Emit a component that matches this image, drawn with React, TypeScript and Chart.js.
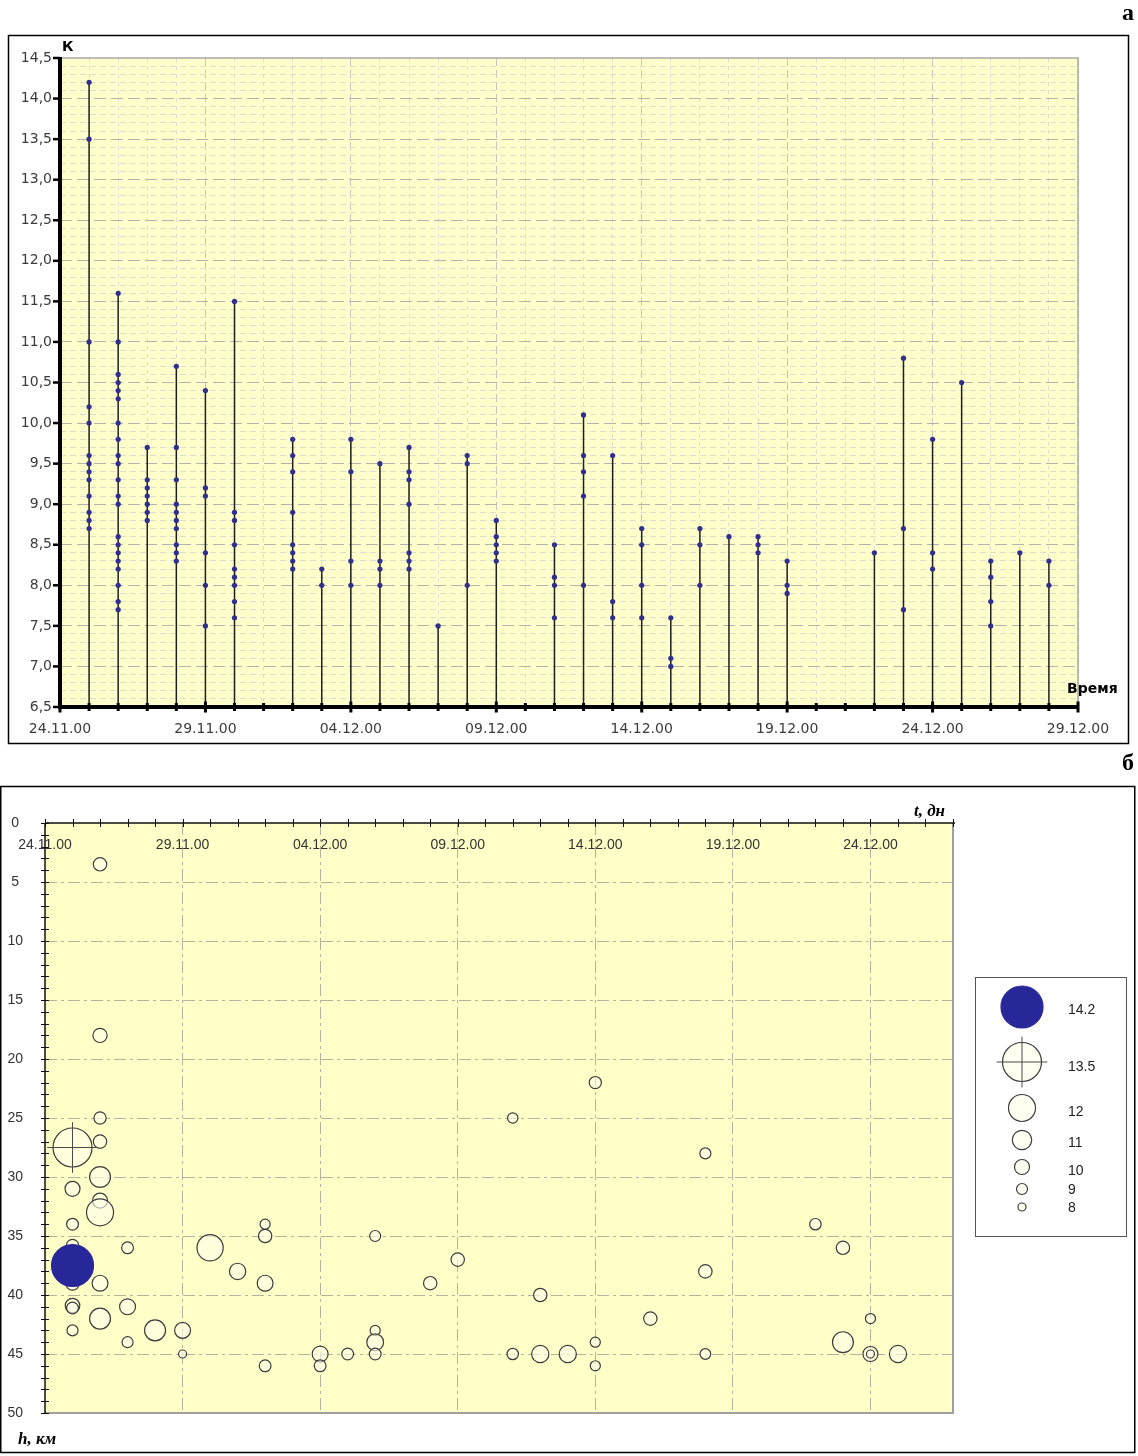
import React, { useEffect, useRef } from 'react';
import { Chart, registerables } from 'chart.js';

Chart.register(...registerables);

// ================= DATA =================
// Chart "а": energy class K of events per day (day index, 0 = 24.11.00)
const stemDays = [1, 2, 3, 4, 5, 6, 8, 9, 10, 11, 12, 13, 14, 15, 17, 18, 19, 20, 21, 22, 23, 24, 25, 28, 29, 30, 31, 32, 33, 34];
const stemK: number[][] = [
  [14.2, 13.5, 11.0, 10.2, 10.0, 9.6, 9.5, 9.4, 9.3, 9.1, 8.9, 8.8, 8.7],
  [11.6, 11.0, 10.6, 10.5, 10.4, 10.3, 10.0, 9.8, 9.6, 9.5, 9.3, 9.1, 9.0, 8.6, 8.5, 8.4, 8.3, 8.2, 8.0, 7.8, 7.7],
  [9.7, 9.3, 9.2, 9.1, 9.0, 8.9, 8.8],
  [10.7, 9.7, 9.3, 9.0, 8.9, 8.8, 8.7, 8.5, 8.4, 8.3],
  [10.4, 9.2, 9.1, 8.4, 8.0, 7.5],
  [11.5, 8.9, 8.8, 8.5, 8.2, 8.1, 8.0, 7.8, 7.6],
  [9.8, 9.6, 9.4, 8.9, 8.5, 8.4, 8.3, 8.2],
  [8.2, 8.0],
  [9.8, 9.4, 8.3, 8.0],
  [9.5, 8.3, 8.2, 8.0],
  [9.7, 9.4, 9.3, 9.0, 8.4, 8.3, 8.2],
  [7.5],
  [9.6, 9.5, 8.0],
  [8.8, 8.6, 8.5, 8.4, 8.3],
  [8.5, 8.1, 8.0, 7.6],
  [10.1, 9.6, 9.4, 9.1, 8.0],
  [9.6, 7.8, 7.6],
  [8.7, 8.5, 8.0, 7.6],
  [7.6, 7.1, 7.0],
  [8.7, 8.5, 8.0],
  [8.6],
  [8.6, 8.5, 8.4],
  [8.3, 8.0, 7.9],
  [8.4],
  [10.8, 8.7, 7.7],
  [9.8, 8.4, 8.2],
  [10.5],
  [8.3, 8.1, 7.8, 7.5],
  [8.4],
  [8.3, 8.0],
];
const xLabelsA = ['24.11.00', '29.11.00', '04.12.00', '09.12.00', '14.12.00', '19.12.00', '24.12.00', '29.12.00'];

// Chart "б": events: day index, depth h (km), class K
const bubbleDays = [2, 2, 2, 2, 1, 1, 2, 2, 2, 1, 1, 1, 1, 2, 1, 1, 2, 3, 3, 1, 3, 4, 5, 5, 6, 7, 8, 8, 8, 8, 10, 10, 11, 12, 12, 12, 12, 14, 15, 17, 17, 18, 18, 19, 20, 20, 20, 22, 24, 24, 24, 28, 29, 29, 30, 30, 30, 31];
const bubbleDepths = [3.5, 18, 25, 27, 27.5, 31, 30, 32, 33, 34, 35.8, 39, 37.5, 39, 40.9, 41.1, 42, 36, 41, 43, 44, 43, 43, 45, 36, 38, 34, 35, 39, 46, 45, 46, 45, 35, 43, 44, 45, 39, 37, 25, 45, 40, 45, 45, 22, 44, 46, 42, 28, 38, 45, 34, 36, 44, 42, 45, 45, 45];
const bubbleK = [9.6, 9.8, 9.3, 9.6, 13.5, 10.0, 11.2, 10.0, 12.0, 9.2, 9.3, 9.7, 14.2, 10.2, 9.9, 9.2, 11.2, 9.2, 10.2, 9.0, 9.0, 11.2, 10.2, 8.0, 11.9, 10.3, 8.7, 9.6, 10.2, 9.2, 10.2, 9.2, 9.2, 9.0, 8.7, 10.4, 9.2, 9.6, 9.6, 8.8, 9.1, 9.6, 10.5, 10.5, 9.3, 8.7, 8.7, 9.6, 9.0, 9.6, 8.9, 9.1, 9.6, 11.2, 8.7, 10.0, 8.0, 10.5];
const xLabelsB = ['24.11.00', '29.11.00', '04.12.00', '09.12.00', '14.12.00', '19.12.00', '24.12.00'];
const legendK = [14.2, 13.5, 12, 11, 10, 9, 8];
const legendLabels = ['14.2', '13.5', '12', '11', '10', '9', '8'];

// ================= STYLE =================
const FONT_A = '"DejaVu Sans", Verdana, sans-serif';
const FONT_B = '"Liberation Sans", Arial, sans-serif';
const SERIF = '"Liberation Serif", "Times New Roman", serif';
const BG_A = 'rgb(255,255,204)';
const BG_B = 'rgb(255,255,200)';
const NAVY = '#27279a';
// bubble radius (px) per class K (legend scale)
const sizeTableK = [8, 9, 10, 11, 12, 13.5, 14.2];
const sizeTableR = [4, 5.5, 7.5, 9.7, 13.5, 19.5, 21];
const radiusForK = (k: number) => {
  if (k <= sizeTableK[0]) return sizeTableR[0];
  for (let i = 1; i < sizeTableK.length; i++) {
    if (k <= sizeTableK[i]) {
      const t = (k - sizeTableK[i - 1]) / (sizeTableK[i] - sizeTableK[i - 1]);
      return sizeTableR[i - 1] + t * (sizeTableR[i] - sizeTableR[i - 1]);
    }
  }
  return sizeTableR[sizeTableR.length - 1];
};
const LEGEND_BOX = { x: 975.5, y: 227.5, w: 151, h: 259 };
const LEGEND_CX = 1022;
const LEGEND_CIRCLE_Y = [257, 312, 358, 390, 417, 439, 457];
const LEGEND_TEXT_X = 1068;
const LEGEND_TEXT_Y = [260, 317, 362, 393, 421, 440, 458];

const Y_MIN_A = 6.5;
const Y_MAX_A = 14.5;
const X_MAX_A = 35;
const X_MAX_B = 33;
const Y_MAX_B = 50;

const isHalf = (v: number) => Math.abs(v * 2 - Math.round(v * 2)) < 1e-6;

// ================= CHART А =================
const decorA = {
  id: 'decorA',
  beforeDraw(chart: any) {
    const { ctx, chartArea: a } = chart;
    ctx.save();
    ctx.fillStyle = BG_A;
    ctx.fillRect(a.left, a.top, a.right - a.left, a.bottom - a.top);
    ctx.restore();
  },
  afterDraw(chart: any) {
    const { ctx, chartArea: a } = chart;
    const xs = chart.scales.x;
    const ys = chart.scales.y;
    ctx.save();
    ctx.strokeStyle = '#a8a8a8';
    ctx.lineWidth = 1.5;
    ctx.beginPath();
    ctx.moveTo(a.left, a.top);
    ctx.lineTo(a.right, a.top);
    ctx.lineTo(a.right, a.bottom);
    ctx.stroke();

    ctx.strokeStyle = '#000';
    ctx.lineWidth = 4;
    ctx.beginPath();
    ctx.moveTo(a.left, a.top - 1);
    ctx.lineTo(a.left, a.bottom + 2);
    ctx.moveTo(a.left - 2, a.bottom);
    ctx.lineTo(a.right + 1, a.bottom);
    ctx.stroke();

    ctx.lineWidth = 3;
    for (let d = 0; d <= X_MAX_A; d++) {
      const px = xs.getPixelForValue(d);
      const h = d % 5 === 0 ? 5.5 : 4;
      ctx.beginPath();
      ctx.moveTo(px, a.bottom - h);
      ctx.lineTo(px, a.bottom + h);
      ctx.stroke();
    }
    ctx.lineWidth = 2.5;
    for (let v = Y_MIN_A; v <= Y_MAX_A + 1e-9; v += 0.5) {
      const py = ys.getPixelForValue(v);
      ctx.beginPath();
      ctx.moveTo(a.left - 7, py);
      ctx.lineTo(a.left, py);
      ctx.stroke();
    }

    ctx.fillStyle = '#000';
    ctx.textAlign = 'left';
    ctx.textBaseline = 'alphabetic';
    ctx.font = `bold 14px ${FONT_A}`;
    ctx.fillText('К', 62, 51);
    ctx.fillText('Время', 1067, 693);

    ctx.lineWidth = 1.5;
    ctx.strokeRect(8.5, 35.5, 1120, 708);

    ctx.font = `bold 24px ${SERIF}`;
    ctx.textAlign = 'right';
    ctx.fillText('а', 1134, 20);
    ctx.restore();
  },
};

function configA(): any {
  const stemLine = stemDays.flatMap((d, i) => [
    { x: d, y: Y_MIN_A },
    { x: d, y: Math.max(...stemK[i]) },
    { x: d, y: null },
  ]);
  const dots = stemDays.flatMap((d, i) => stemK[i].map((k) => ({ x: d, y: k })));
  return {
    type: 'scatter',
    data: {
      datasets: [
        {
          type: 'line',
          data: stemLine,
          borderColor: '#1e1e1e',
          borderWidth: 1.5,
          pointRadius: 0,
          spanGaps: false,
          fill: false,
          tension: 0,
          order: 2,
        },
        {
          type: 'scatter',
          data: dots,
          pointRadius: 2.6,
          backgroundColor: '#30308c',
          borderWidth: 0,
          order: 1,
        },
      ],
    },
    options: {
      responsive: false,
      animation: false,
      devicePixelRatio: 1,
      events: [],
      layout: { padding: { left: 0, top: 58, right: 60, bottom: 0 } },
      plugins: { legend: { display: false }, tooltip: { enabled: false } },
      scales: {
        x: {
          type: 'linear',
          min: 0,
          max: X_MAX_A,
          offset: false,
          afterBuildTicks: (s: any) => {
            s.ticks = Array.from({ length: X_MAX_A + 1 }, (_, i) => ({ value: i }));
          },
          afterFit: (s: any) => {
            s.height = 43;
          },
          grid: {
            offset: false,
            drawTicks: false,
            lineWidth: 1,
            color: (c: any) =>
              !c.tick || c.tick.value === 0 ? 'transparent' : c.tick.value % 5 === 0 ? '#c6c6bc' : '#dcdcd0',
          },
          border: {
            display: false,
            dash: (c: any) => (c.tick && c.tick.value % 5 === 0 ? [8, 4] : [4, 4]),
          },
          ticks: {
            autoSkip: false,
            maxRotation: 0,
            minRotation: 0,
            padding: 14,
            color: '#3c3c3c',
            font: { family: FONT_A, size: 14 },
            callback: (v: number) => (v % 5 === 0 ? xLabelsA[v / 5] ?? '' : ''),
          },
        },
        y: {
          type: 'linear',
          min: Y_MIN_A,
          max: Y_MAX_A,
          afterBuildTicks: (s: any) => {
            s.ticks = Array.from({ length: 81 }, (_, i) => ({ value: (65 + i) / 10 }));
          },
          afterFit: (s: any) => {
            s.width = 60;
          },
          grid: {
            drawTicks: false,
            lineWidth: 1,
            color: (c: any) => {
              if (!c.tick) return 'transparent';
              const v = c.tick.value;
              if (v <= Y_MIN_A + 1e-6 || v >= Y_MAX_A - 1e-6) return 'transparent';
              return isHalf(v) ? '#b4b4ac' : '#dedecf';
            },
          },
          border: {
            display: false,
            dash: (c: any) => (c.tick && isHalf(c.tick.value) ? [12, 5] : [6, 4]),
          },
          ticks: {
            autoSkip: false,
            padding: 8,
            color: '#3c3c3c',
            font: { family: FONT_A, size: 14 },
            callback: (v: number) => (isHalf(v) ? v.toFixed(1).replace('.', ',') : ''),
          },
        },
      },
    },
    plugins: [decorA],
  };
}

// ================= CHART Б =================
const drawBubbleSymbol = (ctx: any, cx: number, cy: number, k: number) => {
  const r = radiusForK(k);
  ctx.beginPath();
  ctx.arc(cx, cy, r, 0, Math.PI * 2);
  if (k >= 14) {
    ctx.fillStyle = NAVY;
    ctx.fill();
    ctx.strokeStyle = NAVY;
  } else {
    ctx.fillStyle = 'rgba(255,255,235,0.7)';
    ctx.fill();
    ctx.strokeStyle = '#3c3c3c';
  }
  ctx.lineWidth = 1.2;
  ctx.stroke();
  if (k >= 13 && k < 14) {
    const c = r * 1.3;
    ctx.strokeStyle = '#4a4a4a';
    ctx.lineWidth = 1;
    ctx.beginPath();
    ctx.moveTo(cx - c, cy);
    ctx.lineTo(cx + c, cy);
    ctx.moveTo(cx, cy - c);
    ctx.lineTo(cx, cy + c);
    ctx.stroke();
  }
};

const decorB = {
  id: 'decorB',
  beforeDraw(chart: any) {
    const { ctx, chartArea: a } = chart;
    ctx.save();
    ctx.fillStyle = BG_B;
    ctx.fillRect(a.left, a.top, a.right - a.left, a.bottom - a.top);
    ctx.restore();
  },
  afterDraw(chart: any) {
    const { ctx, chartArea: a } = chart;
    const xs = chart.scales.x;
    const ys = chart.scales.y;
    ctx.save();
    // frame right/bottom
    ctx.strokeStyle = '#a0a0a0';
    ctx.lineWidth = 2;
    ctx.beginPath();
    ctx.moveTo(a.right, a.top);
    ctx.lineTo(a.right, a.bottom);
    ctx.lineTo(a.left, a.bottom);
    ctx.stroke();
    // axes
    ctx.strokeStyle = '#111';
    ctx.lineWidth = 1.5;
    ctx.beginPath();
    ctx.moveTo(a.left, a.top);
    ctx.lineTo(a.right + 2, a.top);
    ctx.moveTo(a.left, a.top);
    ctx.lineTo(a.left, a.bottom);
    ctx.stroke();
    ctx.lineWidth = 1;
    for (let d = 0; d <= X_MAX_B; d++) {
      const px = Math.round(xs.getPixelForValue(d)) + 0.5;
      ctx.beginPath();
      ctx.moveTo(px, a.top - 4);
      ctx.lineTo(px, a.top + 4);
      ctx.stroke();
    }
    for (let h = 0; h <= Y_MAX_B; h++) {
      const py = Math.round(ys.getPixelForValue(h)) + 0.5;
      ctx.beginPath();
      ctx.moveTo(a.left - 4, py);
      ctx.lineTo(a.left + 4, py);
      ctx.stroke();
    }
    // date labels inside plot
    ctx.fillStyle = '#333';
    ctx.font = `14px ${FONT_B}`;
    ctx.textAlign = 'center';
    ctx.textBaseline = 'middle';
    xLabelsB.forEach((lab, i) => {
      ctx.fillText(lab, xs.getPixelForValue(i * 5), a.top + 22);
    });
    // axis titles
    ctx.fillStyle = '#000';
    ctx.font = `bold italic 17px ${SERIF}`;
    ctx.textBaseline = 'alphabetic';
    ctx.textAlign = 'right';
    ctx.fillText('t, дн', 945, 66);
    ctx.textAlign = 'left';
    ctx.fillText('h, км', 18, 694);
    // legend
    ctx.strokeStyle = '#555';
    ctx.lineWidth = 1;
    ctx.fillStyle = '#fff';
    ctx.fillRect(LEGEND_BOX.x, LEGEND_BOX.y, LEGEND_BOX.w, LEGEND_BOX.h);
    ctx.strokeRect(LEGEND_BOX.x, LEGEND_BOX.y, LEGEND_BOX.w, LEGEND_BOX.h);
    legendK.forEach((k, i) => {
      drawBubbleSymbol(ctx, LEGEND_CX, LEGEND_CIRCLE_Y[i], k);
    });
    ctx.fillStyle = '#222';
    ctx.font = `14px ${FONT_B}`;
    ctx.textAlign = 'left';
    ctx.textBaseline = 'middle';
    legendLabels.forEach((lab, i) => ctx.fillText(lab, LEGEND_TEXT_X, LEGEND_TEXT_Y[i]));
    // outer box
    ctx.strokeStyle = '#000';
    ctx.lineWidth = 1.5;
    ctx.strokeRect(0.75, 36.5, 1134, 666);
    // panel letter
    ctx.fillStyle = '#000';
    ctx.font = `bold 24px ${SERIF}`;
    ctx.textAlign = 'right';
    ctx.textBaseline = 'alphabetic';
    ctx.fillText('б', 1134, 20);
    ctx.restore();
  },
};

function configB(): any {
  const bubbles = bubbleDays.map((d, i) => ({
    x: d,
    y: bubbleDepths[i],
    r: radiusForK(bubbleK[i]),
    k: bubbleK[i],
  }));
  const crosses = bubbles.filter((b) => b.k >= 13 && b.k < 14);
  const gridCol = '#b4b49e';
  return {
    type: 'bubble',
    data: {
      datasets: [
        {
          type: 'bubble',
          data: bubbles,
          backgroundColor: (c: any) => (c.raw && c.raw.k >= 14 ? NAVY : 'rgba(255,255,235,0.6)'),
          borderColor: (c: any) => (c.raw && c.raw.k >= 14 ? NAVY : '#3c3c3c'),
          borderWidth: 1.2,
          order: 2,
        },
        {
          type: 'scatter',
          data: crosses,
          pointStyle: 'cross',
          pointRadius: (c: any) => (c.raw ? radiusForK(c.raw.k) * 1.3 : 0),
          borderColor: '#4a4a4a',
          pointBorderWidth: 1,
          order: 1,
        },
      ],
    },
    options: {
      responsive: false,
      animation: false,
      devicePixelRatio: 1,
      events: [],
      layout: { padding: { left: 0, top: 73, right: 185, bottom: 43 } },
      plugins: { legend: { display: false }, tooltip: { enabled: false } },
      scales: {
        x: {
          type: 'linear',
          position: 'top',
          min: 0,
          max: X_MAX_B,
          offset: false,
          afterBuildTicks: (s: any) => {
            s.ticks = [5, 10, 15, 20, 25, 30].map((v) => ({ value: v }));
          },
          afterFit: (s: any) => {
            s.height = 0;
          },
          ticks: { display: false },
          grid: { offset: false, drawTicks: false, color: gridCol, lineWidth: 1 },
          border: { display: false, dash: [12, 4, 3, 4] },
        },
        y: {
          type: 'linear',
          reverse: true,
          min: 0,
          max: Y_MAX_B,
          afterBuildTicks: (s: any) => {
            s.ticks = Array.from({ length: 11 }, (_, i) => ({ value: i * 5 }));
          },
          afterFit: (s: any) => {
            s.width = 45;
          },
          ticks: {
            autoSkip: false,
            padding: 22,
            crossAlign: 'center',
            color: '#333',
            font: { family: FONT_B, size: 14 },
          },
          grid: {
            drawTicks: false,
            lineWidth: 1,
            color: (c: any) =>
              !c.tick || c.tick.value === 0 || c.tick.value === Y_MAX_B ? 'transparent' : gridCol,
          },
          border: { display: false, dash: [12, 4, 3, 4] },
        },
      },
    },
    plugins: [decorB],
  };
}

export default function App() {
  const refA = useRef<HTMLCanvasElement>(null);
  const refB = useRef<HTMLCanvasElement>(null);
  useEffect(() => {
    const a = new Chart(refA.current as HTMLCanvasElement, configA());
    const b = new Chart(refB.current as HTMLCanvasElement, configB());
    return () => {
      a.destroy();
      b.destroy();
    };
  }, []);
  return (
    <div style={{ position: 'absolute', left: 0, top: 0, width: 1138, height: 1456, background: '#fff' }}>
      <canvas
        ref={refA}
        width={1138}
        height={750}
        style={{ position: 'absolute', left: 0, top: 0, width: 1138, height: 750 }}
      />
      <canvas
        ref={refB}
        width={1138}
        height={706}
        style={{ position: 'absolute', left: 0, top: 750, width: 1138, height: 706 }}
      />
    </div>
  );
}
